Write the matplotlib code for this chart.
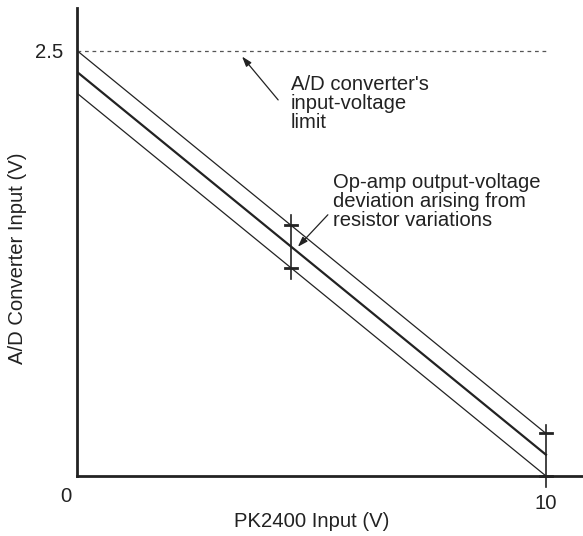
import numpy as np
import matplotlib
matplotlib.use("Agg")
import matplotlib.pyplot as plt

plt.rcParams["font.family"] = ["Liberation Sans", "DejaVu Sans"]

# Transfer lines: value at 0 V and at 10 V input
x_ends = [0, 10]
upper_line = [2.5, 0.25]
nominal_line = [2.375, 0.125]
lower_line = [2.25, 0.0]
adc_limit = 2.5

# Deviation markers
marker_x = [4.56, 10]
marker_span = [(1.16, 1.535), (-0.065, 0.30)]

ink = "#222222"
fs = 14.6

fig = plt.figure(figsize=(5.83, 5.36), dpi=100)
ax = fig.add_axes([0.132, 0.112, 0.868, 0.873])
ax.set_xlim(0, 10.79)
ax.set_ylim(0, 2.75)

for s in ["top", "right"]:
    ax.spines[s].set_visible(False)
for s in ["left", "bottom"]:
    ax.spines[s].set_linewidth(2)
    ax.spines[s].set_color(ink)

ax.plot(x_ends, upper_line, color=ink, lw=0.9)
ax.plot(x_ends, nominal_line, color=ink, lw=1.6)
ax.plot(x_ends, lower_line, color=ink, lw=0.9)
ax.plot(x_ends, [adc_limit, adc_limit], color="#555555", lw=0.9, ls=(0, (3, 3)))

# deviation bars with ticks on the upper and lower lines
slope_u = (upper_line[1] - upper_line[0]) / 10
slope_l = (lower_line[1] - lower_line[0]) / 10
for xm, (y0, y1) in zip(marker_x, marker_span):
    ax.plot([xm, xm], [y0, y1], color=ink, lw=1.2, clip_on=False)
    yu = upper_line[0] + slope_u * xm
    yl = lower_line[0] + slope_l * xm
    for yy in (yu, yl):
        ax.plot([xm - 0.13, xm + 0.13], [yy, yy], color=ink, lw=2, clip_on=False)

ax.set_xticks([10])
ax.set_xticklabels(["10"])
ax.set_yticks([2.5])
ax.set_yticklabels(["2.5"])
ax.tick_params(length=0, labelsize=fs, colors=ink)
ax.tick_params(axis="y", pad=10)
ax.tick_params(axis="x", pad=13)
ax.text(-0.23, -0.12, "0", fontsize=fs, color=ink, ha="center", va="center")

ax.set_xlabel("PK2400 Input (V)", fontsize=fs, color=ink, va="center")
ax.xaxis.set_label_coords(0.464, -0.098)
ax.set_ylabel("A/D Converter Input (V)", fontsize=fs, color=ink, va="center")
ax.yaxis.set_label_coords(-0.117, 0.466)

arrow = dict(arrowstyle="-|>,head_length=0.6,head_width=0.2", color=ink, lw=0.9,
             shrinkA=0, shrinkB=0)
ax.annotate("", xy=(3.52, 2.465), xytext=(4.29, 2.21), arrowprops=arrow)
ax.text(4.56, 2.355, "A/D converter's\ninput-voltage\nlimit", fontsize=fs,
        color=ink, va="top", ha="left", linespacing=1.0)

ax.annotate("", xy=(4.71, 1.347), xytext=(5.35, 1.535), arrowprops=arrow)
ax.text(5.46, 1.78, "Op-amp output-voltage\ndeviation arising from\nresistor variations",
        fontsize=fs, color=ink, va="top", ha="left", linespacing=1.0)

fig.savefig("out.png", dpi=100)
